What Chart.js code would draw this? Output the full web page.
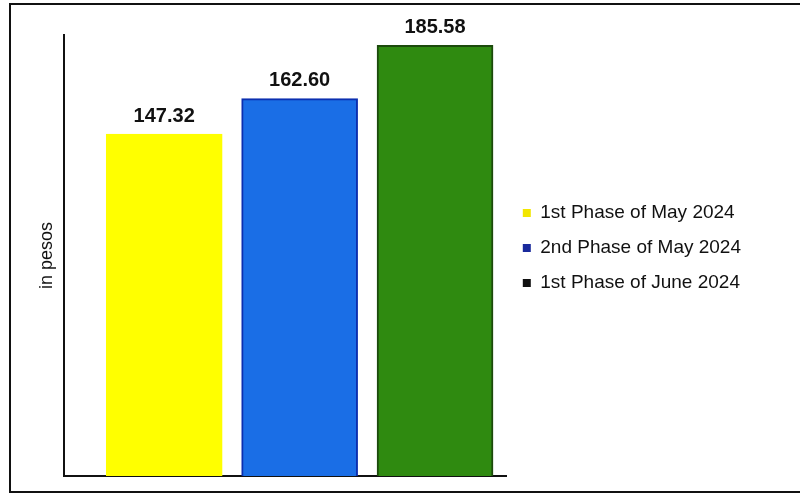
<!DOCTYPE html>
<html lang="en">
<head>
<meta charset="UTF-8" />
<title>Prices in pesos</title>
<script src="https://cdn.jsdelivr.net/npm/chart.js"></script>
<style>
  html, body { margin: 0; padding: 0; background: #fff; }
  #wrap { width: 800px; height: 495px; }
</style>
</head>
<body>
<div id="wrap"><canvas id="priceChart" width="800" height="495"></canvas></div>

<script>
  // data
  const phases = ['1st Phase of May 2024', '2nd Phase of May 2024', '1st Phase of June 2024'];
  const prices = [147.32, 162.60, 185.58];
  const barColors = ['#ffff00', '#1a6ee6', '#2f8a10'];
  const borderColors = ['#ffff00', '#0b2fb0', '#1c4a0c'];
  const legendColors = ['#f2e600', '#1a2a9c', '#111111'];

  const FONT = '"Liberation Sans", Arial, sans-serif';

  // value labels on top of the bars
  const valueLabels = {
    id: 'valueLabels',
    afterDatasetsDraw(chart) {
      const ctx = chart.ctx;
      ctx.save();
      ctx.font = 'bold 20px ' + FONT;
      ctx.fillStyle = '#111';
      ctx.textAlign = 'center';
      ctx.textBaseline = 'bottom';
      chart.data.datasets.forEach((ds, i) => {
        const bar = chart.getDatasetMeta(i).data[0];
        ctx.fillText(ds.data[0].y.toFixed(2), bar.x, bar.y - 8);
      });
      ctx.restore();
    }
  };

  // scanned frame round the chart
  const frame = {
    id: 'frame',
    afterDraw(chart) {
      const ctx = chart.ctx;
      ctx.save();
      ctx.strokeStyle = '#111';
      ctx.lineWidth = 2;
      ctx.strokeRect(10, 4, 800, 488);
      ctx.restore();
    }
  };

  new Chart(document.getElementById('priceChart'), {
    type: 'bar',
    data: {
      datasets: phases.map((p, i) => ({
        label: p,
        data: [{ x: i + 1, y: prices[i] }],
        backgroundColor: barColors[i],
        borderColor: borderColors[i],
        borderWidth: 2,
        barThickness: 116
      }))
    },
    options: {
      responsive: false,
      animation: false,
      layout: { padding: { left: 10, top: 20, bottom: 19, right: 49 } },
      scales: {
        x: {
          type: 'linear',
          offset: false,
          min: 0.26,
          max: 3.53,
          ticks: { display: false },
          grid: { display: false },
          border: { display: true, color: '#111', width: 2 },
          afterFit: s => { s.height = 0; }
        },
        y: {
          min: 0,
          max: 190,
          ticks: { display: false },
          grid: { display: false },
          border: { display: true, color: '#111', width: 2 },
          title: {
            display: true,
            text: 'in pesos',
            color: '#111',
            padding: { top: 26, bottom: 0 },
            font: { family: FONT, size: 18 }
          },
          afterFit: s => { s.width = 54; }
        }
      },
      datasets: { bar: { grouped: false } },
      plugins: {
        // empty spacer above the plot only, so the legend sits a little above centre
        title: {
          display: true,
          text: '',
          fullSize: false,
          padding: { top: 5, bottom: 0 },
          font: { size: 10, lineHeight: 1 }
        },
        legend: {
          position: 'right',
          maxWidth: 340,
          labels: {
            color: '#111',
            boxWidth: 8,
            boxHeight: 8,
            padding: 16,
            font: { family: FONT, size: 19 },
            generateLabels: chart => chart.data.datasets.map((ds, i) => ({
              text: ds.label,
              fillStyle: legendColors[i],
              strokeStyle: legendColors[i],
              lineWidth: 0,
              fontColor: '#111',
              datasetIndex: i
            }))
          }
        },
        tooltip: { enabled: false }
      }
    },
    plugins: [valueLabels, frame]
  });
</script>
</body>
</html>
